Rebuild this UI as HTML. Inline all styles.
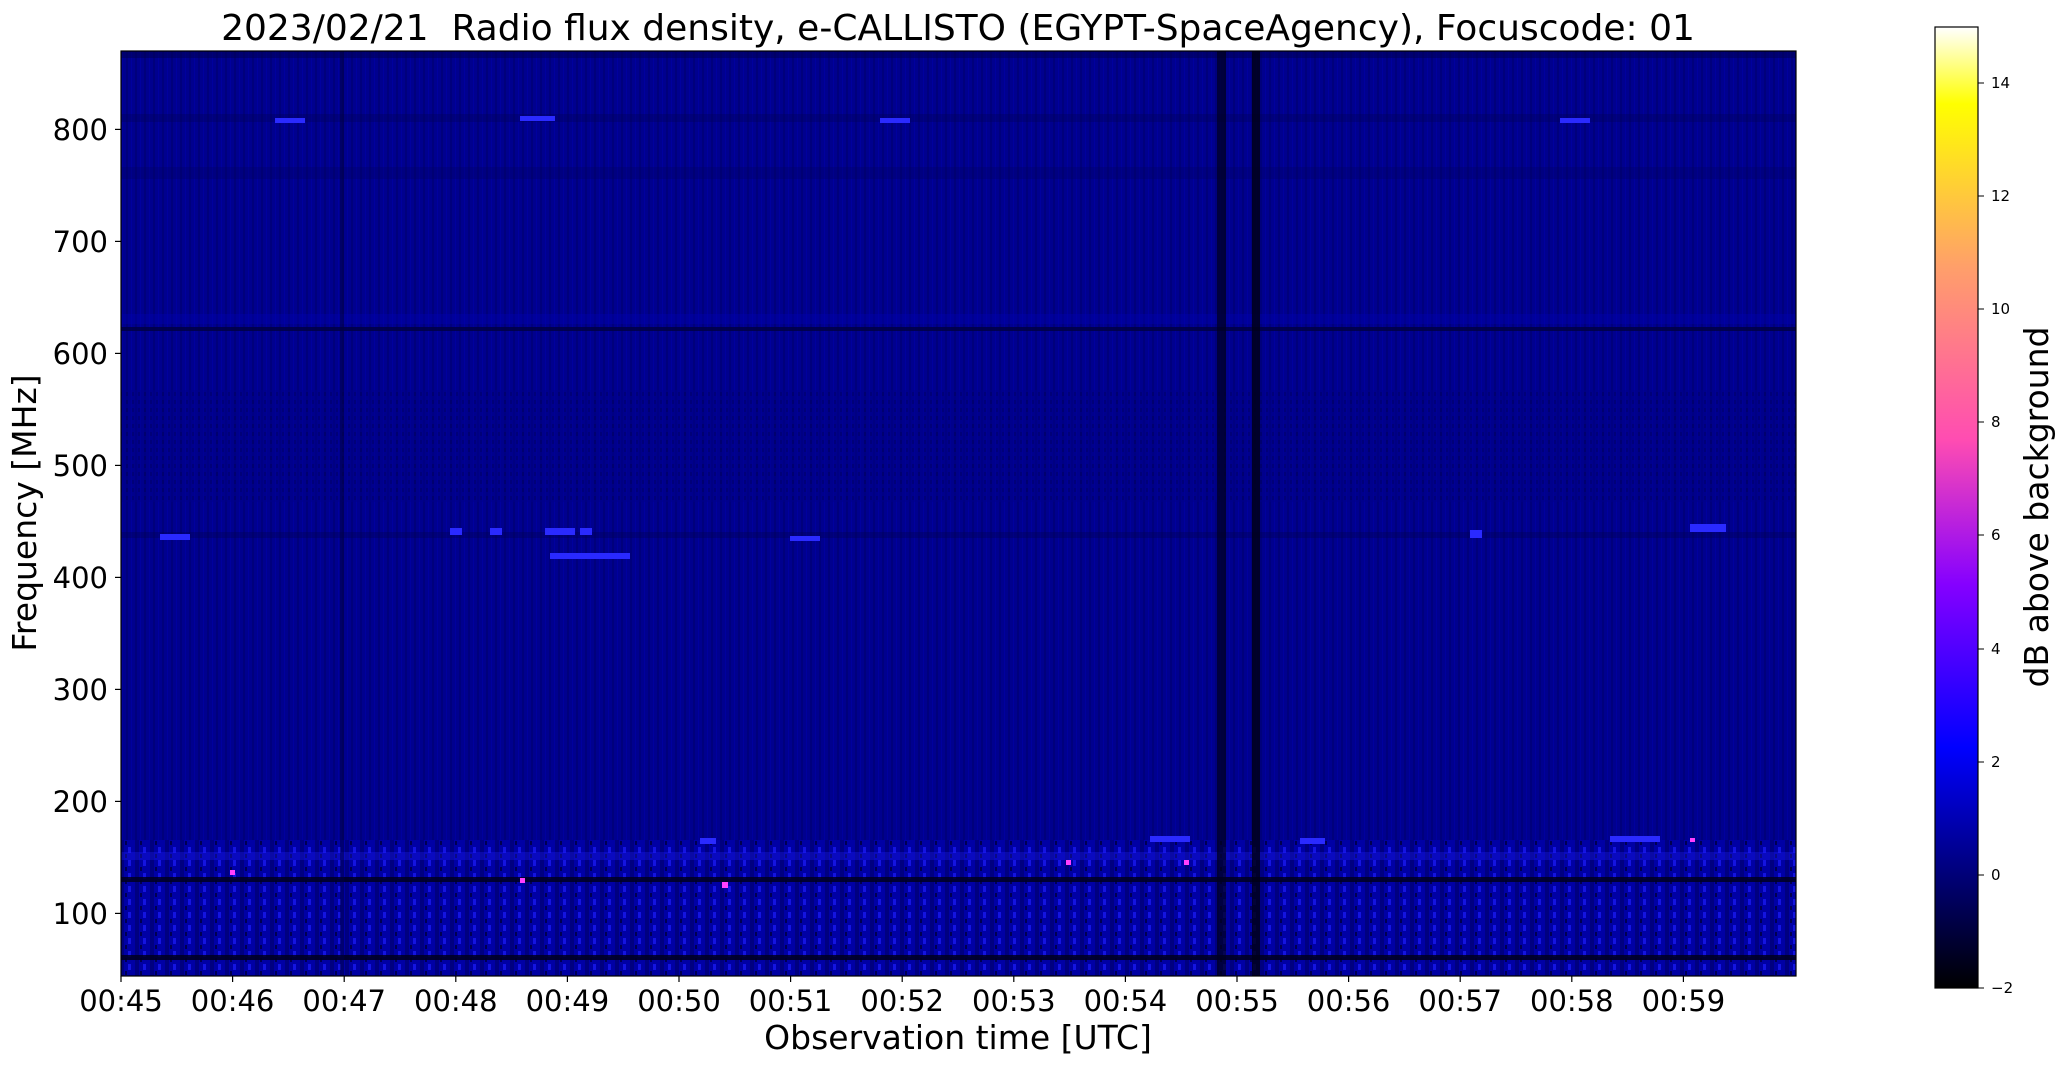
<!DOCTYPE html>
<html><head><meta charset="utf-8"><style>
html,body{margin:0;padding:0;background:#fff;}
svg{display:block;font-family:"DejaVu Sans","Liberation Sans",sans-serif;}
</style></head><body>
<svg width="2066" height="1067" viewBox="0 0 2066 1067" xmlns="http://www.w3.org/2000/svg">
<defs>
<linearGradient id="cb" x1="0" y1="1" x2="0" y2="0">
<stop offset="0" stop-color="#000000"/>
<stop offset="0.25" stop-color="#0000ff"/>
<stop offset="0.42" stop-color="#8500ff"/>
<stop offset="0.57" stop-color="#ff4cb2"/>
<stop offset="0.75" stop-color="#ff9f6a"/>
<stop offset="0.92" stop-color="#ffff00"/>
<stop offset="1" stop-color="#ffffff"/>
</linearGradient>
<pattern id="vs" width="9" height="10" patternUnits="userSpaceOnUse">
<rect width="9" height="10" fill="#00008e"/>
<rect x="0" width="2" height="10" fill="#00007c"/>
<rect x="5" width="1" height="10" fill="#00009e"/>
</pattern>
<pattern id="bot" width="15" height="13" patternUnits="userSpaceOnUse">
<rect width="15" height="13" fill="#0000a4"/>
<rect x="0" width="4" height="13" fill="#000080"/>
<rect x="8" y="2" width="3" height="6" fill="#1414e0"/>
<rect x="5" y="9" width="2" height="4" fill="#000050"/>
</pattern>
<pattern id="mid" width="6" height="8" patternUnits="userSpaceOnUse">
<rect width="6" height="8" fill="#00008a"/>
<rect width="2" height="4" fill="#000060"/>
</pattern>
<clipPath id="pc"><rect x="121" y="51" width="1675" height="925"/></clipPath>
</defs>
<g clip-path="url(#pc)">
<rect x="121" y="51" width="1675" height="925" fill="url(#vs)"/>
<rect x="121" y="51" width="1675" height="7" fill="#000050" opacity="0.5"/>
<rect x="121" y="114" width="1675" height="8" fill="#000058" opacity="0.35"/>
<rect x="121" y="167" width="1675" height="12" fill="#000060" opacity="0.3"/>
<rect x="121" y="327" width="1675" height="4" fill="#000040" opacity="0.8"/>
<rect x="121" y="314" width="1675" height="10" fill="#0000b0" opacity="0.4"/>
<rect x="121" y="390" width="1675" height="112" fill="url(#mid)" opacity="0.45"/>
<rect x="121" y="532" width="1675" height="6" fill="#000050" opacity="0.35"/>
<rect x="121" y="840" width="1675" height="136" fill="url(#bot)"/>
<rect x="121" y="877" width="1675" height="5" fill="#000020" opacity="0.85"/>
<rect x="121" y="955" width="1675" height="5" fill="#000020" opacity="0.85"/>
<rect x="121" y="852" width="1675" height="8" fill="#2020ff" opacity="0.3"/>
<g fill="#2a2aff">
<rect x="275" y="118" width="30" height="5"/><rect x="520" y="116" width="35" height="5"/><rect x="880" y="118" width="30" height="5"/><rect x="1560" y="118" width="30" height="5"/>
<rect x="160" y="534" width="30" height="6"/><rect x="450" y="528" width="12" height="7"/><rect x="490" y="528" width="12" height="7"/><rect x="545" y="528" width="30" height="7"/><rect x="580" y="528" width="12" height="7"/><rect x="790" y="536" width="30" height="5"/><rect x="1690" y="524" width="36" height="8"/><rect x="1470" y="530" width="12" height="8"/>
<rect x="550" y="553" width="80" height="6"/>
<rect x="700" y="838" width="16" height="6"/><rect x="1150" y="836" width="40" height="6"/><rect x="1610" y="836" width="50" height="6"/><rect x="1300" y="838" width="25" height="6"/>
</g>
<g fill="#ff40ff">
<rect x="230" y="870" width="5" height="5"/><rect x="520" y="878" width="5" height="5"/><rect x="722" y="882" width="6" height="6"/><rect x="1066" y="860" width="5" height="5"/><rect x="1184" y="860" width="5" height="5"/><rect x="1690" y="838" width="5" height="4"/>
</g>
<rect x="1217" y="51" width="9" height="925" fill="#000020" opacity="0.75"/>
<rect x="1252" y="51" width="8" height="925" fill="#000018" opacity="0.85"/>
<rect x="340" y="51" width="4" height="925" fill="#000040" opacity="0.5"/>
</g>
<rect x="121" y="51" width="1675" height="925" fill="none" stroke="#000" stroke-width="1.2"/>
<g font-size="29" text-anchor="end" fill="#000">
<g stroke="#000" stroke-width="1.2">
<line x1="115" x2="121" y1="129.4" y2="129.4"/><line x1="115" x2="121" y1="241.4" y2="241.4"/><line x1="115" x2="121" y1="353.4" y2="353.4"/><line x1="115" x2="121" y1="465.4" y2="465.4"/><line x1="115" x2="121" y1="577.4" y2="577.4"/><line x1="115" x2="121" y1="689.4" y2="689.4"/><line x1="115" x2="121" y1="801.4" y2="801.4"/><line x1="115" x2="121" y1="913.4" y2="913.4"/>
</g>
<text x="108" y="140">800</text><text x="108" y="252">700</text><text x="108" y="364">600</text><text x="108" y="476">500</text><text x="108" y="588">400</text><text x="108" y="700">300</text><text x="108" y="812">200</text><text x="108" y="924">100</text>
</g>
<g font-size="29" text-anchor="middle" fill="#000">
<g stroke="#000" stroke-width="1.2">
<line x1="121" x2="121" y1="976" y2="982"/><line x1="232.6" x2="232.6" y1="976" y2="982"/><line x1="344.2" x2="344.2" y1="976" y2="982"/><line x1="455.8" x2="455.8" y1="976" y2="982"/><line x1="567.4" x2="567.4" y1="976" y2="982"/><line x1="679" x2="679" y1="976" y2="982"/><line x1="790.6" x2="790.6" y1="976" y2="982"/><line x1="902.2" x2="902.2" y1="976" y2="982"/><line x1="1013.8" x2="1013.8" y1="976" y2="982"/><line x1="1125.4" x2="1125.4" y1="976" y2="982"/><line x1="1237" x2="1237" y1="976" y2="982"/><line x1="1348.6" x2="1348.6" y1="976" y2="982"/><line x1="1460.2" x2="1460.2" y1="976" y2="982"/><line x1="1571.8" x2="1571.8" y1="976" y2="982"/><line x1="1683.4" x2="1683.4" y1="976" y2="982"/>
</g>
<text x="121" y="1011">00:45</text><text x="232.6" y="1011">00:46</text><text x="344.2" y="1011">00:47</text><text x="455.8" y="1011">00:48</text><text x="567.4" y="1011">00:49</text><text x="679" y="1011">00:50</text><text x="790.6" y="1011">00:51</text><text x="902.2" y="1011">00:52</text><text x="1013.8" y="1011">00:53</text><text x="1125.4" y="1011">00:54</text><text x="1237" y="1011">00:55</text><text x="1348.6" y="1011">00:56</text><text x="1460.2" y="1011">00:57</text><text x="1571.8" y="1011">00:58</text><text x="1683.4" y="1011">00:59</text>
</g>
<text x="958" y="1049" font-size="33" text-anchor="middle">Observation time [UTC]</text>
<text transform="translate(36,513) rotate(-90)" font-size="33" text-anchor="middle">Frequency [MHz]</text>
<text x="958" y="40" font-size="36" text-anchor="middle">2023/02/21&#160;&#160;Radio flux density, e-CALLISTO (EGYPT-SpaceAgency), Focuscode: 01</text>
<rect x="1935" y="27" width="43" height="961" fill="url(#cb)" stroke="#000" stroke-width="1.2"/>
<g font-size="15" fill="#000">
<g stroke="#000" stroke-width="1">
<line x1="1978" x2="1984" y1="988" y2="988"/><line x1="1978" x2="1984" y1="875" y2="875"/><line x1="1978" x2="1984" y1="762" y2="762"/><line x1="1978" x2="1984" y1="649" y2="649"/><line x1="1978" x2="1984" y1="535" y2="535"/><line x1="1978" x2="1984" y1="422" y2="422"/><line x1="1978" x2="1984" y1="309" y2="309"/><line x1="1978" x2="1984" y1="196" y2="196"/><line x1="1978" x2="1984" y1="83" y2="83"/>
</g>
<text x="1991" y="993">−2</text><text x="1991" y="880">0</text><text x="1991" y="767">2</text><text x="1991" y="654">4</text><text x="1991" y="540">6</text><text x="1991" y="427">8</text><text x="1991" y="314">10</text><text x="1991" y="201">12</text><text x="1991" y="88">14</text>
</g>
<text transform="translate(2048,507) rotate(-90)" font-size="33" text-anchor="middle">dB above background</text>
</svg>
</body></html>
